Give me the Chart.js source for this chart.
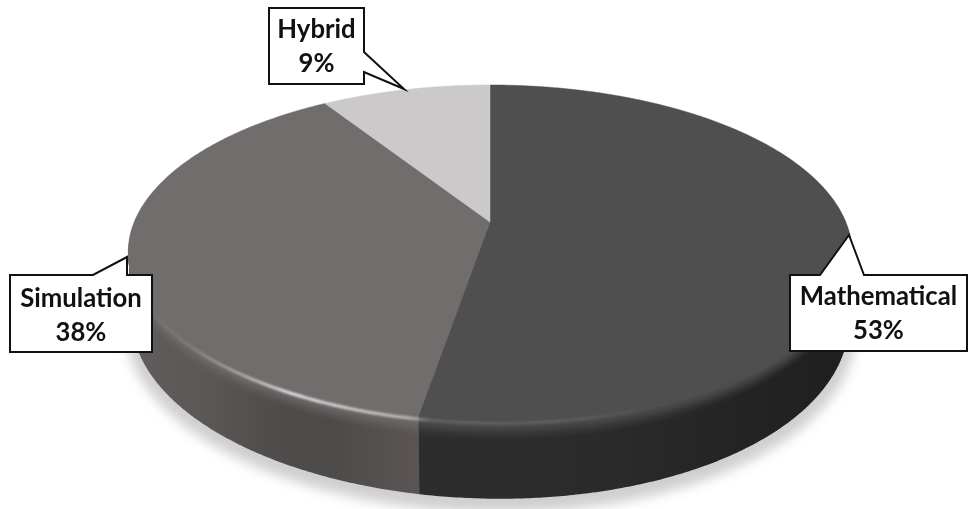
<!DOCTYPE html>
<html>
<head>
<meta charset="utf-8">
<style>
  html, body { margin: 0; padding: 0; background: #fff; }
  #wrap { width: 971px; height: 509px; }
</style>
<script src="https://cdn.jsdelivr.net/npm/chart.js@4"></script>
</head>
<body>
<div id="wrap"><canvas id="pie" width="971" height="509"></canvas></div>
<script>
const categories = ['Mathematical', 'Simulation', 'Hybrid'];
const shares = [53, 38, 9];
const topColors = ['#4f4f4f', '#716d6c', '#cbc9ca'];

// Wall shading, left to right across the disc: [pixel x, colour]
const wallShades = [
  [[420, '#2d2d2d'], [600, '#2b2b2b'], [800, '#212121'], [850, '#1f1f1f']],
  [[130, '#615d5c'], [200, '#5c5857'], [280, '#4e4b4b'], [330, '#4d4a4a'], [400, '#585352'], [425, '#5b5655']],
  [[130, '#a9a7a8'], [850, '#a9a7a8']]
];

// Camera model for the tilted disc; frontSkew leans the near edge to the right
const view = { cx: 490, cy: 222, B: 355.8, A: 162.3, k: 0.1845, depth: 65, shrink: 0.99, bevel: 18, frontSkew: 10 };

// Callout boxes: [left, top, right, bottom], tail points, text baselines
const callouts = [
  { box: [790, 275, 967, 351], tail: [[820, 275], [849, 235], [864, 275]], side: 'top', baselines: [305, 339] },
  { box: [10, 275, 152, 352], tail: [[93, 275], [127, 257], [127, 275]], side: 'top', baselines: [307, 341] },
  { box: [269, 8, 364, 84], tail: [[364, 52], [404, 89], [364, 72]], side: 'right', baselines: [38, 72] }
];

function project(theta, radius, z) {
  const u = Math.cos(theta) * radius, v = -Math.sin(theta) * radius;
  const w = 1 + view.k * v;
  const s = 1 - (1 - view.shrink) * (z / view.depth);
  const lean = v < 0 ? view.frontSkew * v * v : 0;
  return [view.cx + s * view.B * u / w + lean, view.cy - s * view.A * v / w + z / w];
}

function hex(c) { return [1, 3, 5].map(i => parseInt(c.slice(i, i + 2), 16)); }
function mix(a, b, t) {
  const p = hex(a), q = hex(b);
  return 'rgb(' + p.map((x, i) => Math.round(x + (q[i] - x) * t)).join(',') + ')';
}

function sector(ctx, arc, z) {
  ctx.beginPath();
  ctx.moveTo(...project(arc.startAngle, 0, z));
  const steps = Math.ceil((arc.endAngle - arc.startAngle) / 0.008);
  for (let i = 0; i <= steps; i++) {
    const a = arc.startAngle + (arc.endAngle - arc.startAngle) * i / steps;
    ctx.lineTo(...project(a, 1, z));
  }
  ctx.closePath();
}

function wallFill(ctx, index, t) {
  const stops = wallShades[index];
  const x0 = stops[0][0], x1 = stops[stops.length - 1][0];
  const g = ctx.createLinearGradient(x0, 0, x1, 0);
  stops.forEach(([x, c]) => g.addColorStop((x - x0) / (x1 - x0), mix(topColors[index], c, t)));
  return g;
}

function drawShadow(ctx) {
  ctx.save();
  ctx.filter = 'blur(6px)';
  ctx.fillStyle = '#cfcfcf';
  ctx.beginPath();
  for (let a = 0; a < Math.PI * 2; a += 0.01) {
    const p = project(a, 1.02, view.depth + 7);
    ctx.lineTo(p[0], p[1]);
  }
  ctx.closePath();
  ctx.fill();
  ctx.restore();
}

function drawWalls(ctx, arcs) {
  for (let z = view.depth; z > 0; z -= 1) {
    const raw = Math.min(1, z / view.bevel);
    const t = raw * raw * (3 - 2 * raw);
    arcs.forEach((arc, i) => {
      ctx.fillStyle = wallFill(ctx, i, t);
      sector(ctx, arc, z);
      ctx.fill();
    });
  }
}

function drawRimLight(ctx) {
  ctx.save();
  ctx.filter = 'blur(1px)';
  const g = ctx.createLinearGradient(140, 0, 680, 0);
  const stops = [[140, 0], [190, 0.12], [240, 0.4], [290, 0.8], [350, 0.65], [410, 0.5], [430, 0.12], [560, 0.1], [680, 0]];
  stops.forEach(([x, a]) => g.addColorStop((x - 140) / 540, 'rgba(255,255,255,' + a + ')'));
  ctx.strokeStyle = g;
  ctx.lineWidth = 3;
  ctx.beginPath();
  for (let a = 0.25; a < Math.PI - 0.1; a += 0.01) {
    const p = project(a, 1, 2);
    ctx.lineTo(p[0], p[1]);
  }
  ctx.stroke();
  ctx.restore();
}

function drawCallout(ctx, c, lines) {
  const [l, t, r, b] = c.box;
  ctx.save();
  ctx.beginPath();
  if (c.side === 'top') {
    ctx.moveTo(l, t);
    c.tail.forEach(p => ctx.lineTo(p[0], p[1]));
    ctx.lineTo(r, t); ctx.lineTo(r, b); ctx.lineTo(l, b);
  } else {
    ctx.moveTo(l, t); ctx.lineTo(r, t);
    c.tail.forEach(p => ctx.lineTo(p[0], p[1]));
    ctx.lineTo(r, b); ctx.lineTo(l, b);
  }
  ctx.closePath();
  ctx.fillStyle = '#fff';
  ctx.fill();
  ctx.lineWidth = 2;
  ctx.lineJoin = 'miter';
  ctx.strokeStyle = '#111';
  ctx.stroke();
  ctx.fillStyle = '#111';
  ctx.font = 'bold 25.7px Lato';
  ctx.textAlign = 'center';
  ctx.textBaseline = 'alphabetic';
  const mid = (l + r) / 2;
  ctx.fillText(lines[0], mid, c.baselines[0]);
  ctx.fillText(lines[1], mid, c.baselines[1]);
  ctx.restore();
}

const tiltedDisc = {
  id: 'tiltedDisc',
  beforeDatasetsDraw(chart) {
    const ctx = chart.ctx;
    const arcs = chart.getDatasetMeta(0).data;
    drawShadow(ctx);
    drawWalls(ctx, arcs);
    arcs.forEach((arc, i) => {
      ctx.fillStyle = topColors[i];
      ctx.strokeStyle = topColors[i];
      ctx.lineWidth = 0.5;
      sector(ctx, arc, 0);
      ctx.fill();
      ctx.stroke();
    });
    drawRimLight(ctx);
    callouts.forEach((c, i) => {
      drawCallout(ctx, c, [chart.data.labels[i], chart.data.datasets[0].data[i] + '%']);
    });
    return false;
  }
};

new Chart(document.getElementById('pie'), {
  type: 'pie',
  data: {
    labels: categories,
    datasets: [{ data: shares, backgroundColor: topColors, borderWidth: 0 }]
  },
  options: {
    responsive: false,
    animation: false,
    plugins: { legend: { display: false }, tooltip: { enabled: false } }
  },
  plugins: [tiltedDisc]
});
</script>
</body>
</html>
